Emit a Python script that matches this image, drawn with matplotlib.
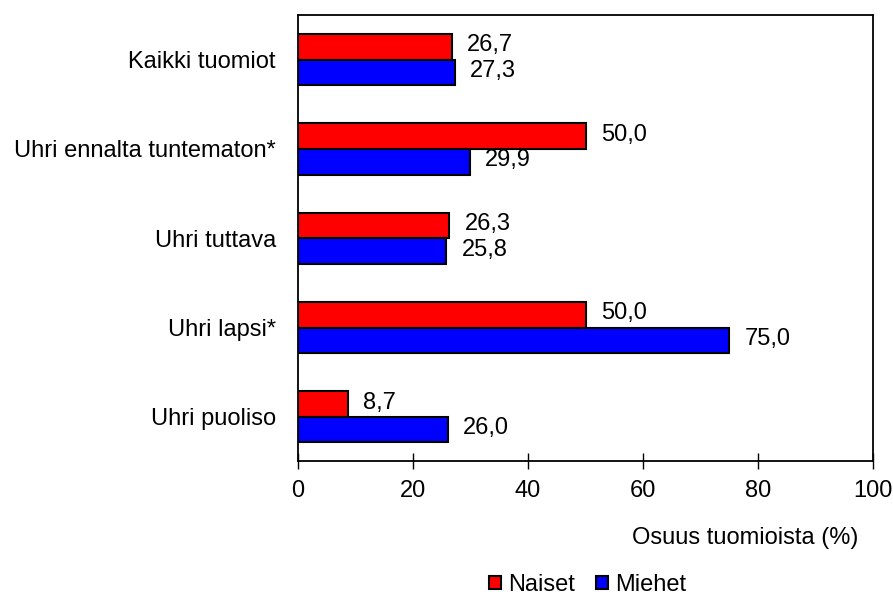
import numpy as np
import matplotlib.pyplot as plt

plt.rcParams['font.family'] = ['Liberation Sans', 'DejaVu Sans']
plt.rcParams['font.size'] = 17

categories = ['Kaikki tuomiot', 'Uhri ennalta tuntematon*', 'Uhri tuttava',
              'Uhri lapsi*', 'Uhri puoliso']
naiset = [26.7, 50.0, 26.3, 50.0, 8.7]
miehet = [27.3, 29.9, 25.8, 75.0, 26.0]
xticks = [0, 20, 40, 60, 80, 100]

fig = plt.figure(figsize=(8.93, 5.97), dpi=100)
ax = fig.add_axes([0.3337, 0.227, 0.644, 0.748])

y = np.arange(len(categories))
h = 0.287
b1 = ax.barh(y - h / 2, naiset, height=h, color='#ff0000', edgecolor='black',
             linewidth=1.5, label='Naiset')
b2 = ax.barh(y + h / 2, miehet, height=h, color='#0000ff', edgecolor='black',
             linewidth=1.5, label='Miehet')

def fmt(v):
    return f'{v:.1f}'.replace('.', ',')

for bars, vals in ((b1, naiset), (b2, miehet)):
    for bar, v in zip(bars, vals):
        ax.annotate(fmt(v), (v, bar.get_y() + bar.get_height() / 2),
                    xytext=(11, 1), textcoords='offset points',
                    ha='left', va='center')

ax.set_xlim(0, 100)
ax.set_ylim(len(categories) - 0.5, -0.5)
ax.set_xticks(xticks)
ax.set_xticklabels([str(t) for t in xticks])
ax.set_yticks(y)
ax.set_yticklabels(categories)
ax.tick_params(axis='x', direction='inout', length=11, width=1, pad=8)
ax.tick_params(axis='y', length=0, pad=16)
for s in ax.spines.values():
    s.set_linewidth(1.3)

fig.text(0.961, 0.099, 'Osuus tuomioista (%)', ha='right', va='center')

fig.legend(handles=[b1, b2], loc='center', bbox_to_anchor=(0.658, 0.02),
           ncol=2, frameon=False, borderpad=0, handlelength=0.5,
           handleheight=0.5, handletextpad=0.3, columnspacing=0.9)

fig.savefig('out.png', dpi=100)
